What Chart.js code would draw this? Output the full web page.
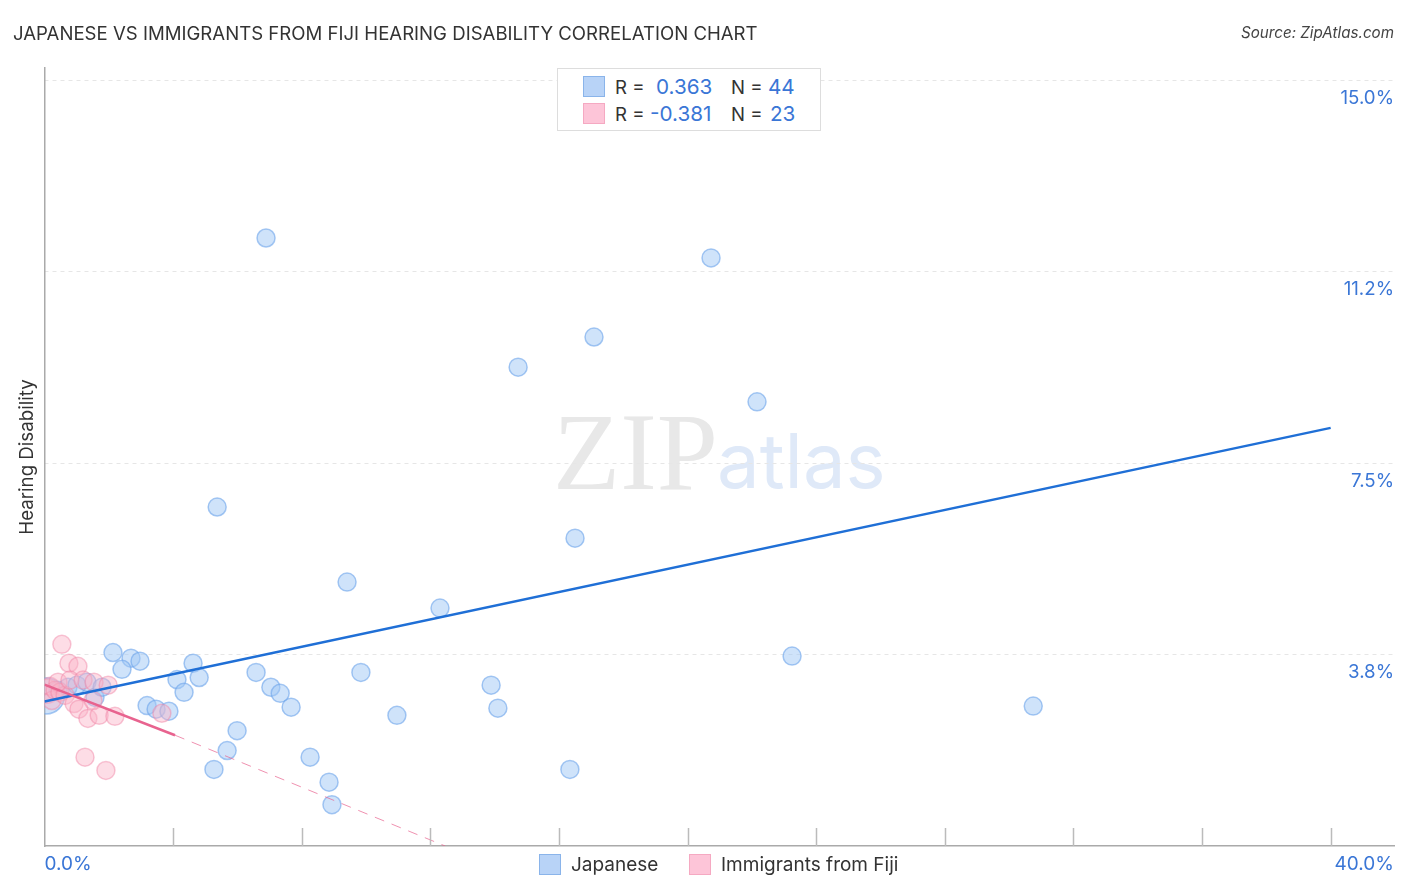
<!DOCTYPE html>
<html>
<head>
<meta charset="utf-8">
<title>Japanese vs Immigrants from Fiji Hearing Disability</title>
<script src="https://cdn.jsdelivr.net/npm/chart.js@4"></script>
<style>
  html, body { margin: 0; padding: 0; background: #fff; overflow: hidden; }
  body { width: 1406px; height: 892px; position: relative; font-family: Inter, sans-serif; }
  canvas { position: absolute; left: 0; top: 0; }
  .txt { position: absolute; white-space: nowrap; line-height: 1; }
  .blue { color: #3a76d6; }
  #title { left: 13px; top: 24px; font-size: 18.6px; color: #333; }
  #source { right: 12px; top: 25px; font-size: 15.2px; font-style: italic; color: #444; }
  #wm-zip { left: 553px; top: 389px; font: 110px "Liberation Serif", serif; color: #e8e8e8; letter-spacing: 0; }
  #wm-atlas { left: 717px; top: 414px; font: 76px Inter, sans-serif; color: #dfe9f8; }
  #stats { position: absolute; left: 557px; top: 68px; width: 262px; height: 61px; border: 1.5px solid #ddd; background: #fff; z-index: 3; }
  .swatch { position: absolute; width: 20px; height: 19px; border: 1.5px solid; }
  .sw-blue { background: #b8d3f7; border-color: #8ab4ea; }
  .sw-pink { background: #fdc5d8; border-color: #f5a9c2; }
  .stat { font-size: 18.6px; color: #333; z-index: 4; }
  .stat.blue { font-size: 20.7px; color: #3a76d6; }
  .leg { font-size: 19px; color: #333; top: 855px; }
</style>
</head>
<body>
<div id="wm-zip" class="txt">ZIP</div>
<div id="wm-atlas" class="txt">atlas</div>
<canvas id="chart" width="1406" height="892"></canvas>

<div id="title" class="txt">JAPANESE VS IMMIGRANTS FROM FIJI HEARING DISABILITY CORRELATION CHART</div>
<div id="source" class="txt">Source: ZipAtlas.com</div>

<div id="stats"></div>
<div class="swatch sw-blue" style="left:583px;top:76px;z-index:4"></div>
<div class="swatch sw-pink" style="left:583px;top:103px;z-index:4"></div>
<div class="txt stat" style="left:615px;top:78px">R =</div>
<div class="txt stat blue" style="left:656px;top:77px">0.363</div>
<div class="txt stat" style="left:731px;top:78px">N =</div>
<div class="txt stat blue" style="left:768px;top:77px">44</div>
<div class="txt stat" style="left:615px;top:105px">R =</div>
<div class="txt stat blue" style="left:650px;top:104px">-0.381</div>
<div class="txt stat" style="left:731px;top:105px">N =</div>
<div class="txt stat blue" style="left:770px;top:104px">23</div>

<div class="swatch sw-blue" style="left:539px;top:854px"></div>
<div class="txt leg" style="left:571px">Japanese</div>
<div class="swatch sw-pink" style="left:689px;top:854px"></div>
<div class="txt leg" style="left:721px">Immigrants from Fiji</div>

<script>
// ========== Data ==========

const japaneseX = [0.06, 0.42, 0.73, 1.01, 1.32, 1.57, 1.79, 2.13, 2.69, 2.97, 2.41, 4.62, 4.12, 4.81, 4.34,
  3.19, 3.47, 3.87, 5.99, 5.68, 5.27, 6.89, 20.73, 17.09, 14.73, 22.16, 5.37, 16.50, 9.41, 12.30, 23.25,
  6.58, 9.84, 7.04, 7.33, 7.67, 10.96, 13.89, 14.10, 30.75, 8.26, 16.34, 8.85, 8.94];
const japaneseY = [2.94, 3.05, 3.11, 3.15, 3.21, 2.91, 3.11, 3.79, 3.68, 3.62, 3.46, 3.58, 3.26, 3.30, 3.01,
  2.75, 2.68, 2.64, 2.26, 1.87, 1.50, 11.91, 11.52, 9.97, 9.38, 8.70, 6.64, 6.03, 5.17, 4.66, 3.72,
  3.40, 3.40, 3.11, 2.99, 2.72, 2.56, 3.15, 2.70, 2.74, 1.74, 1.50, 1.25, 0.81];

const fijiX = [0.08, 0.17, 0.23, 0.33, 0.48, 0.64, 0.42, 0.54, 0.76, 1.04, 0.79, 1.20, 1.54, 1.98, 0.92,
  1.07, 1.35, 1.70, 2.19, 3.65, 1.26, 1.91, 1.51];
const fijiY = [3.03, 3.13, 2.85, 3.05, 3.01, 2.95, 3.21, 3.95, 3.58, 3.52, 3.25, 3.25, 3.21, 3.15, 2.79,
  2.68, 2.50, 2.56, 2.54, 2.60, 1.74, 1.48, 2.85];

const japaneseTrendX = [0, 40];
const japaneseTrendY = [2.83, 8.19];
const fijiTrendX = [0, 4.06];
const fijiTrendY = [3.16, 2.17];
const fijiDashX = [4.06, 12.46];
const fijiDashY = [2.17, 0];

const yTickValues = [15, 11.25, 7.5, 3.75];
const yTickLabels = ['15.0%', '11.2%', '7.5%', '3.8%'];
const xTickValues = [4, 8, 12, 16, 20, 24, 28, 32, 36, 40];
const xEndLabels = ['0.0%', '40.0%'];

function toPoints(xs, ys) {
  return xs.map((x, i) => ({ x: x, y: ys[i] }));
}

// ========== Plugin for inner x ticks and end labels ==========

const axisDecor = {
  id: 'axisDecor',
  afterDraw(chart) {
    const ctx = chart.ctx;
    const xScale = chart.scales.x;
    const bottom = chart.chartArea.bottom;
    ctx.save();
    ctx.strokeStyle = '#bbb';
    ctx.lineWidth = 1.5;
    xTickValues.forEach(v => {
      const px = Math.round(xScale.getPixelForValue(v)) + 0.5;
      ctx.beginPath();
      ctx.moveTo(px, bottom - 18);
      ctx.lineTo(px, bottom);
      ctx.stroke();
    });
    ctx.fillStyle = '#3a76d6';
    ctx.font = '19px Inter, sans-serif';
    ctx.textBaseline = 'middle';
    ctx.textAlign = 'left';
    ctx.fillText(xEndLabels[0], xScale.getPixelForValue(0), 864);
    ctx.textAlign = 'right';
    ctx.fillText(xEndLabels[1], chart.chartArea.right, 864);
    ctx.restore();
  },
};

// ========== Chart ==========

const scatterStyle = (fill, stroke) => ({
  type: 'scatter',
  backgroundColor: fill,
  borderColor: stroke,
  borderWidth: 1.5,
});

const lineStyle = (color, width) => ({
  type: 'scatter',
  showLine: true,
  pointRadius: 0,
  borderColor: color,
  borderWidth: width,
  fill: false,
});

new Chart(document.getElementById('chart'), {
  data: {
    datasets: [
      {
        ...scatterStyle('rgba(160, 200, 245, 0.5)', 'rgba(110, 165, 235, 0.6)'),
        label: 'Japanese',
        data: toPoints(japaneseX, japaneseY),
        pointRadius: c => (c.dataIndex === 0 ? 18 : 9),
        order: 4,
      },
      {
        ...scatterStyle('rgba(250, 180, 200, 0.45)', 'rgba(240, 130, 165, 0.45)'),
        label: 'Immigrants from Fiji',
        data: toPoints(fijiX, fijiY),
        pointRadius: c => (c.dataIndex === 0 ? 12 : 9),
        order: 3,
      },
      {
        ...lineStyle('#1f6fd6', 2.5),
        label: 'Japanese trend',
        data: toPoints(japaneseTrendX, japaneseTrendY),
        order: 2,
      },
      {
        ...lineStyle('rgba(232, 99, 143, 0.7)', 1),
        label: 'Fiji trend projection',
        data: toPoints(fijiDashX, fijiDashY),
        borderDash: [10, 8],
        order: 2,
      },
      {
        ...lineStyle('#e8638f', 2.5),
        label: 'Fiji trend',
        data: toPoints(fijiTrendX, fijiTrendY),
        order: 1,
      },
    ],
  },
  options: {
    responsive: false,
    animation: false,
    devicePixelRatio: 1,
    layout: { autoPadding: false, padding: { top: 68, right: 12, bottom: 46, left: 0 } },
    plugins: { legend: { display: false }, tooltip: { enabled: false } },
    scales: {
      x: {
        type: 'linear',
        min: 0,
        max: 41.97,
        grid: { display: false },
        border: { color: '#aaa', width: 1.5 },
        ticks: { display: false },
        afterFit: s => { s.height = 0; },
      },
      y: {
        position: 'left',
        min: 0,
        max: 15.24,
        grid: { display: false },
        border: { color: '#aaa', width: 1.5 },
        ticks: { display: false },
        title: {
          display: true,
          text: 'Hearing Disability',
          color: '#333',
          font: { family: 'Inter, sans-serif', size: 18.7 },
          padding: { top: 16, bottom: 0 },
        },
        afterFit: s => { s.width = 44.5; },
      },
      yRight: {
        position: 'right',
        min: 0,
        max: 15.24,
        border: { display: false, dash: [4, 4] },
        grid: { color: '#e6e6e6', lineWidth: 1, drawTicks: false },
        afterBuildTicks: s => { s.ticks = yTickValues.map(v => ({ value: v })); },
        ticks: {
          mirror: true,
          padding: 0,
          labelOffset: 18,
          autoSkip: false,
          color: '#3a76d6',
          font: { family: 'Inter, sans-serif', size: 18.7 },
          callback: v => yTickLabels[yTickValues.indexOf(v)],
        },
        afterFit: s => { s.width = 0; },
      },
    },
  },
  plugins: [axisDecor],
});
</script>
</body>
</html>
